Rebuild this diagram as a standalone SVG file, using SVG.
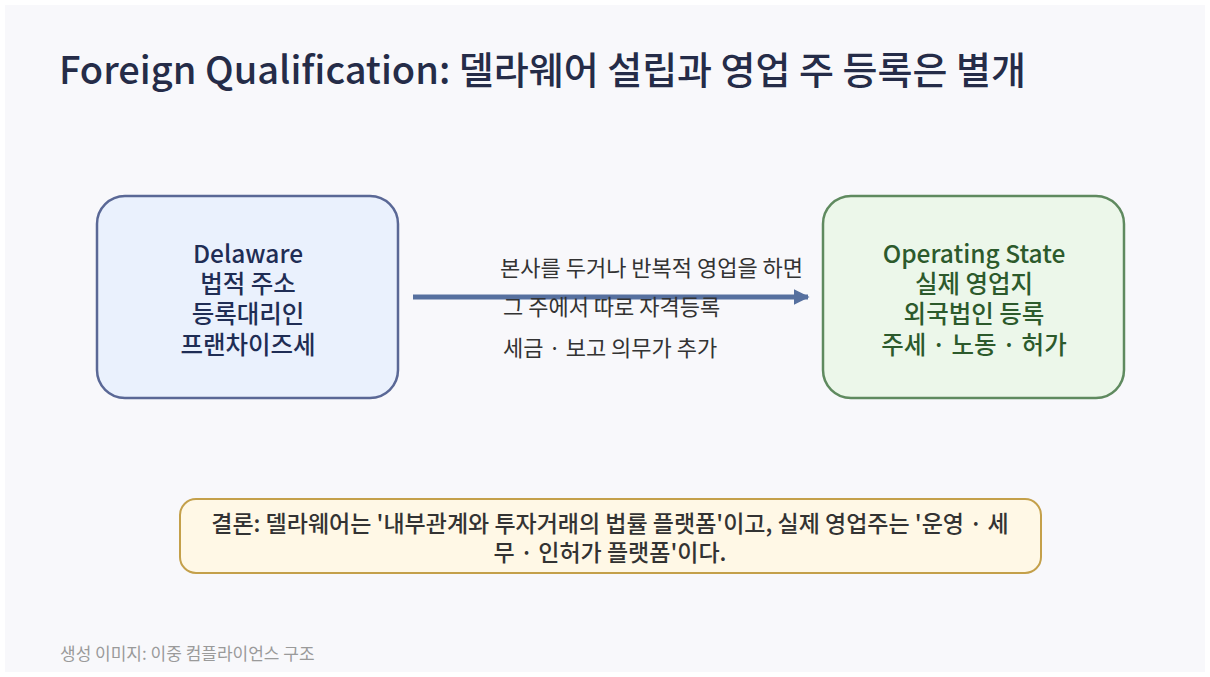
<svg xmlns="http://www.w3.org/2000/svg" width="1210" height="677" viewBox="0 0 1210 677">
<defs>
<style>
.t{font-family:"Noto Sans CJK KR","Noto Sans",sans-serif;}
.title{font-size:38px;font-weight:500;fill:#252c48;}
.nl{font-size:24.5px;font-weight:500;text-anchor:middle;}
.el{font-size:22px;fill:#333333;}
.cc{font-size:23px;font-weight:500;fill:#333333;text-anchor:middle;}
.ft{font-size:17px;fill:#9a9a9a;}
</style>
<marker id="ah" viewBox="0 0 10 10" refX="9" refY="5" markerWidth="3.2" markerHeight="3.2" orient="auto" markerUnits="strokeWidth">
<path d="M0,0 L10,5 L0,10 z" fill="#56709f"/>
</marker>
</defs>
<rect x="0" y="0" width="1210" height="677" fill="#ffffff"/>
<rect x="5" y="5" width="1200" height="667" fill="#f8f8fb"/>
<text class="t title" x="59" y="84">Foreign Qualification: 델라웨어 설립과 영업 주 등록은 별개</text>
<g id="connectors">
<line x1="413" y1="297" x2="808" y2="297" stroke="#56709f" stroke-width="5" marker-end="url(#ah)"/>
<text class="t el" x="500" y="276">본사를 두거나 반복적 영업을 하면</text>
<text class="t el" x="503" y="315">그 주에서 따로 자격등록</text>
<text class="t el" x="503" y="356">세금 · 보고 의무가 추가</text>
</g>
<g id="delaware">
<rect x="97" y="196" width="301" height="202" rx="28" fill="#eaf1fd" stroke="#5a6896" stroke-width="2.5"/>
<g class="t nl" fill="#1f2d55">
<text x="248" y="263">Delaware</text>
<text x="248" y="293">법적 주소</text>
<text x="248" y="323">등록대리인</text>
<text x="248" y="354">프랜차이즈세</text>
</g>
</g>
<g id="operating">
<rect x="823" y="196" width="301" height="202" rx="28" fill="#ecf7ea" stroke="#5f8a5f" stroke-width="2.5"/>
<g class="t nl" fill="#2c5a2c">
<text x="974" y="263">Operating State</text>
<text x="974" y="293">실제 영업지</text>
<text x="974" y="323">외국법인 등록</text>
<text x="974" y="354">주세 · 노동 · 허가</text>
</g>
</g>
<g id="conclusion">
<rect x="180" y="499" width="861" height="74" rx="16" fill="#fff8e6" stroke="#c4a04a" stroke-width="2"/>
<text class="t cc" x="610" y="532">결론: 델라웨어는 '내부관계와 투자거래의 법률 플랫폼'이고, 실제 영업주는 '운영 · 세</text>
<text class="t cc" x="610" y="561">무 · 인허가 플랫폼'이다.</text>
</g>
<text class="t ft" x="60" y="660">생성 이미지: 이중 컴플라이언스 구조</text>
</svg>
